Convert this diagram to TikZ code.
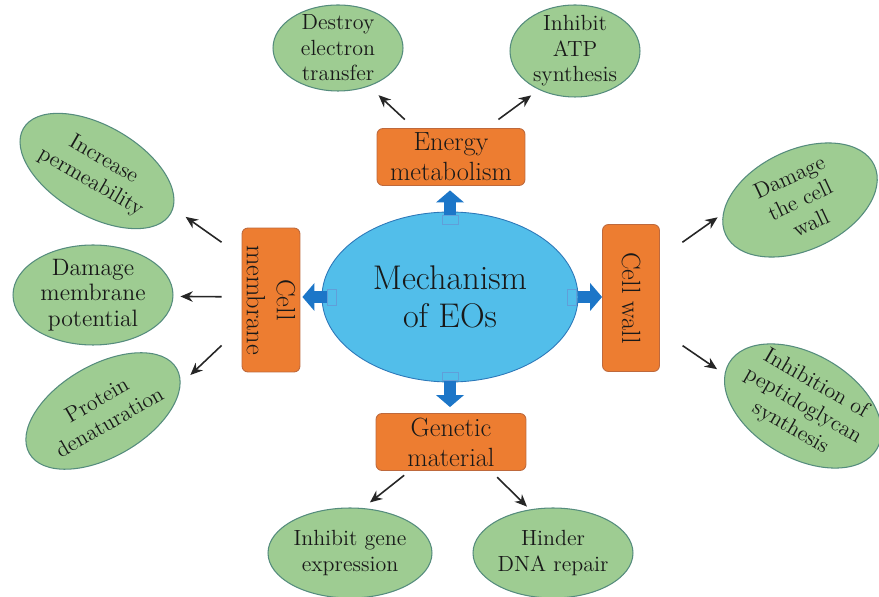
\documentclass[tikz,border=0pt]{standalone}
\usetikzlibrary{shapes, positioning, arrows.meta, calc}

\definecolor{eoblue}{RGB}{82,190,234}
\definecolor{eoline}{RGB}{45,120,185}
\definecolor{blockblue}{RGB}{28,118,200}
\definecolor{boxorange}{RGB}{237,125,49}
\definecolor{boxline}{RGB}{190,105,60}
\definecolor{leafgreen}{RGB}{158,204,146}
\definecolor{leafline}{RGB}{85,140,125}

\begin{document}
\begin{tikzpicture}[x=0.02cm, y=-0.02cm,
    box/.style={rectangle, rounded corners=0.12cm, fill=boxorange, draw=boxline, line width=0.5pt, align=center, inner sep=0pt, text=black!90, font=\fontsize{15}{17}\selectfont},
    leaf/.style={ellipse, fill=leafgreen, draw=leafline, line width=0.6pt, align=center, inner xsep=-3pt, inner ysep=-4pt, text=black!90, font=\fontsize{12.5}{14.5}\selectfont},
    arr/.style={-{Stealth[length=7pt, width=6pt]}, line width=0.9pt, black!85},
    blockarr/.style={line width=0.24cm, blockblue, -{Triangle[length=0.24cm, width=0.56cm, line width=0pt]}},
    handle/.style={rectangle, draw=blockblue!70, fill=eoblue, line width=0.5pt, inner sep=0pt}]
    \path[use as bounding box, fill=white] (0,0) rectangle (879,597);

    % Centre
    \node[ellipse, fill=eoblue, draw=eoline, line width=0.5pt, minimum width=5.12cm, minimum height=3.4cm, align=center, text=black!90, font=\fontsize{19.5}{21.5}\selectfont] (mech) at (450,297) {Mechanism\\of EOs};

    % Targets
    \node[box, minimum width=2.96cm, minimum height=1.14cm] (energy) at (451,157) {Energy\\metabolism};
    \node[box, minimum width=3.0cm, minimum height=1.14cm] (genetic) at (451,442) {Genetic\\material};
    \node[box, rotate=-90, minimum width=2.88cm, minimum height=1.16cm] (memb) at (271,300) {Cell\\membrane};
    \node[box, rotate=-90, minimum width=2.94cm, minimum height=1.14cm] (wall) at (631,298) {Cell wall};

    % Energy metabolism
    \node[leaf, minimum width=2.6cm, minimum height=1.72cm] (e1) at (338,48) {Destroy\\electron\\transfer};
    \node[leaf, minimum width=2.6cm, minimum height=1.84cm] (e2) at (575,51) {Inhibit\\ATP\\synthesis};
    \draw[arr, shorten <=0.25cm, shorten >=0.26cm] (energy.142) -- (e1.-51);
    \draw[arr, shorten <=0.29cm, shorten >=0.19cm] (energy.39) -- (e2.-133);

    % Cell membrane
    \node[leaf, rotate=-30, minimum width=3.4cm, minimum height=1.8cm] (m1) at (97,171) {Increase\\permeability};
    \node[leaf, minimum width=3.2cm, minimum height=2.0cm, font=\fontsize{13.5}{14.5}\selectfont] (m2) at (93,295) {Damage\\membrane\\potential};
    \node[leaf, rotate=30, minimum width=3.4cm, minimum height=1.84cm] (m3) at (103,411) {Protein\\denaturation};
    \draw[arr, shorten <=0.49cm, shorten >=0.30cm] (memb.214) -- (m1.4);
    \draw[arr, shorten <=0.40cm, shorten >=0.14cm] (memb.264) -- (m2.-1);
    \draw[arr, shorten <=0.55cm, shorten >=0.27cm] (memb.312) -- (m3.-11);

    % Cell wall
    \node[leaf, rotate=25, minimum width=3.28cm, minimum height=2.0cm] (w1) at (800,200) {Damage\\the cell\\wall};
    \node[leaf, rotate=-30, minimum width=3.4cm, minimum height=2.08cm] (w2) at (803,406) {Inhibition of\\peptidoglycan\\synthesis};
    \draw[arr, shorten <=0.55cm, shorten >=0.13cm] (wall.144) -- (w1.165);
    \draw[arr, shorten <=0.55cm, shorten >=0.18cm] (wall.42) -- (w2.188);

    % Genetic material
    \node[leaf, minimum width=3.28cm, minimum height=1.8cm] (g1) at (350,553) {Inhibit gene\\expression};
    \node[leaf, minimum width=3.2cm, minimum height=1.8cm] (g2) at (553,553) {Hinder\\DNA repair};
    \draw[arr, shorten <=0.14cm, shorten >=0.18cm] (genetic.215) -- (g1.74);
    \draw[arr, shorten <=0.18cm, shorten >=0.08cm] (genetic.-36) -- (g2.118);

    % Block arrows
    \draw[blockarr, shorten <=-0.06cm, shorten >=0.09cm] (mech.north) -- (mech.north |- energy.south);
    \draw[blockarr, shorten <=-0.04cm, shorten >=0.12cm] (mech.south) -- (mech.south |- genetic.north);
    \draw[blockarr, shorten <=-0.1cm, shorten >=0.04cm] (mech.west) -- (mech.west -| memb.north);
    \draw[blockarr] (mech.east) -- (mech.east -| wall.south);
    \node[handle, minimum width=0.32cm, minimum height=0.18cm] (hn) at (450,220) {};
    \node[handle, minimum width=0.32cm, minimum height=0.16cm] (hs) at (450,376) {};
    \node[handle, minimum width=0.18cm, minimum height=0.32cm] (hw) at (332,297) {};
    \node[handle, minimum width=0.18cm, minimum height=0.32cm] (he) at (572,297) {};
\end{tikzpicture}
\end{document}
